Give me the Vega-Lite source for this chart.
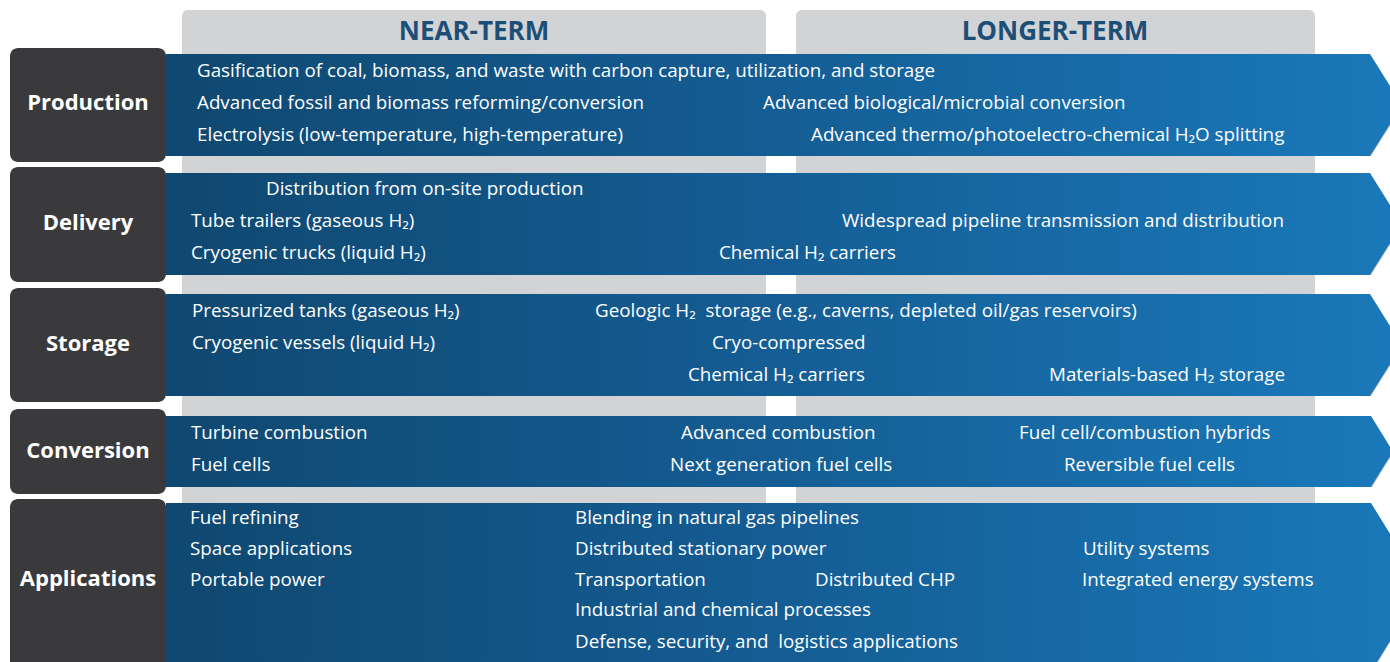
{
  "$schema": "https://vega.github.io/schema/vega-lite/v6.json",
  "width": 1390,
  "height": 662,
  "padding": 0,
  "autosize": {"type": "fit", "contains": "padding"},
  "background": "white",
  "config": {"view": {"stroke": null}},
  "datasets": {
    "cols": [
      {"x": 182, "x2": 766, "y": 10, "y2": 662},
      {"x": 796, "x2": 1315, "y": 10, "y2": 662}
    ],
    "headers": [
      {"x": 474, "y": 32, "t": "NEAR-TERM"},
      {"x": 1055, "y": 32, "t": "LONGER-TERM"}
    ],
    "boxes": [
      {"x": 10, "x2": 166, "y": 48, "y2": 162, "ly": 103, "t": "Production"},
      {"x": 10, "x2": 166, "y": 167, "y2": 282, "ly": 223, "t": "Delivery"},
      {"x": 10, "x2": 166, "y": 288, "y2": 402, "ly": 344, "t": "Storage"},
      {"x": 10, "x2": 166, "y": 409, "y2": 494, "ly": 451, "t": "Conversion"},
      {"x": 10, "x2": 166, "y": 499, "y2": 680, "ly": 579, "t": "Applications"}
    ],
    "arrows": [
      {"row": "Production", "x": 166, "y": 54, "y2": 156},
      {"row": "Production", "x": 1370, "y": 54, "y2": 156},
      {"row": "Production", "x": 1402, "y": 105, "y2": 105},
      {"row": "Delivery", "x": 166, "y": 173, "y2": 275},
      {"row": "Delivery", "x": 1370, "y": 173, "y2": 275},
      {"row": "Delivery", "x": 1402, "y": 224, "y2": 224},
      {"row": "Storage", "x": 166, "y": 294, "y2": 396},
      {"row": "Storage", "x": 1370, "y": 294, "y2": 396},
      {"row": "Storage", "x": 1402, "y": 345, "y2": 345},
      {"row": "Conversion", "x": 166, "y": 416, "y2": 487},
      {"row": "Conversion", "x": 1371, "y": 416, "y2": 487},
      {"row": "Conversion", "x": 1393, "y": 451.5, "y2": 451.5},
      {"row": "Applications", "x": 166, "y": 503, "y2": 672},
      {"row": "Applications", "x": 1371, "y": 503, "y2": 672},
      {"row": "Applications", "x": 1423, "y": 587, "y2": 587}
    ],
    "items": [
      {"x": 197, "y": 71, "t": "Gasification of coal, biomass, and waste with carbon capture, utilization, and storage"},
      {"x": 197, "y": 103, "t": "Advanced fossil and biomass reforming/conversion"},
      {"x": 763, "y": 103, "t": "Advanced biological/microbial conversion"},
      {"x": 197, "y": 135, "t": "Electrolysis (low-temperature, high-temperature)"},
      {"x": 811, "y": 135, "t": "Advanced thermo/photoelectro-chemical H₂O splitting"},
      {"x": 266, "y": 189, "t": "Distribution from on-site production"},
      {"x": 191, "y": 221, "t": "Tube trailers (gaseous H₂)"},
      {"x": 842, "y": 221, "t": "Widespread pipeline transmission and distribution"},
      {"x": 191, "y": 253, "t": "Cryogenic trucks (liquid H₂)"},
      {"x": 719, "y": 253, "t": "Chemical H₂ carriers"},
      {"x": 192, "y": 311, "t": "Pressurized tanks (gaseous H₂)"},
      {"x": 595, "y": 311, "t": "Geologic H₂\u00a0 storage (e.g., caverns, depleted oil/gas reservoirs)"},
      {"x": 192, "y": 343, "t": "Cryogenic vessels (liquid H₂)"},
      {"x": 712, "y": 343, "t": "Cryo-compressed"},
      {"x": 688, "y": 375, "t": "Chemical H₂ carriers"},
      {"x": 1049, "y": 375, "t": "Materials-based H₂ storage"},
      {"x": 191, "y": 433, "t": "Turbine combustion"},
      {"x": 681, "y": 433, "t": "Advanced combustion"},
      {"x": 1019, "y": 433, "t": "Fuel cell/combustion hybrids"},
      {"x": 191, "y": 465, "t": "Fuel cells"},
      {"x": 670, "y": 465, "t": "Next generation fuel cells"},
      {"x": 1064, "y": 465, "t": "Reversible fuel cells"},
      {"x": 190, "y": 518, "t": "Fuel refining"},
      {"x": 575, "y": 518, "t": "Blending in natural gas pipelines"},
      {"x": 190, "y": 549, "t": "Space applications"},
      {"x": 575, "y": 549, "t": "Distributed stationary power"},
      {"x": 1083, "y": 549, "t": "Utility systems"},
      {"x": 190, "y": 580, "t": "Portable power"},
      {"x": 575, "y": 580, "t": "Transportation"},
      {"x": 815, "y": 580, "t": "Distributed CHP"},
      {"x": 1082, "y": 580, "t": "Integrated energy systems"},
      {"x": 575, "y": 610, "t": "Industrial and chemical processes"},
      {"x": 575, "y": 642, "t": "Defense, security, and\u00a0 logistics applications"}
    ]
  },
  "layer": [
    {
      "data": {"name": "cols"},
      "mark": {"type": "rect", "color": "#d2d3d5", "cornerRadiusTopLeft": 6, "cornerRadiusTopRight": 6, "clip": true},
      "encoding": {
        "x": {"field": "x", "type": "quantitative", "scale": {"domain": [0, 1390], "nice": false, "zero": false}, "axis": null},
        "x2": {"field": "x2"},
        "y": {"field": "y", "type": "quantitative", "scale": {"domain": [0, 662], "nice": false, "zero": false, "reverse": true}, "axis": null},
        "y2": {"field": "y2"}
      }
    },
    {
      "data": {"name": "headers"},
      "mark": {"type": "text", "font": "Open Sans", "fontWeight": "bold", "fontSize": 26, "color": "#1b4f78", "align": "center", "baseline": "middle"},
      "encoding": {
        "x": {"field": "x", "type": "quantitative"},
        "y": {"field": "y", "type": "quantitative"},
        "text": {"field": "t"}
      }
    },
    {
      "data": {"name": "arrows"},
      "mark": {"type": "area", "clip": true, "interpolate": "linear", "orient": "vertical", "fill": "#3c3c3c", "opacity": 0.3, "yOffset": 3, "xOffset": 1},
      "encoding": {
        "x": {"field": "x", "type": "quantitative"},
        "y": {"field": "y", "type": "quantitative", "stack": null},
        "y2": {"field": "y2"},
        "detail": {"field": "row"}
      }
    },
    {
      "data": {"name": "arrows"},
      "mark": {
        "type": "area",
        "clip": true,
        "interpolate": "linear",
        "orient": "vertical",
        "fill": {
          "gradient": "linear", "x1": 0, "y1": 0, "x2": 1, "y2": 0,
          "stops": [
            {"offset": 0, "color": "#0f4870"},
            {"offset": 0.45, "color": "#145b91"},
            {"offset": 1, "color": "#1a79ba"}
          ]
        }
      },
      "encoding": {
        "x": {"field": "x", "type": "quantitative"},
        "y": {"field": "y", "type": "quantitative", "stack": null},
        "y2": {"field": "y2"},
        "detail": {"field": "row"}
      }
    },
    {
      "data": {"name": "boxes"},
      "mark": {"type": "rect", "color": "#3a3a3c", "cornerRadius": 8, "clip": true},
      "encoding": {
        "x": {"field": "x", "type": "quantitative"},
        "x2": {"field": "x2"},
        "y": {"field": "y", "type": "quantitative"},
        "y2": {"field": "y2"}
      }
    },
    {
      "data": {"name": "boxes"},
      "mark": {"type": "text", "font": "Open Sans", "fontWeight": "bold", "fontSize": 22, "color": "white", "align": "center", "baseline": "middle"},
      "encoding": {
        "x": {"datum": 88, "type": "quantitative"},
        "y": {"field": "ly", "type": "quantitative"},
        "text": {"field": "t"}
      }
    },
    {
      "data": {"name": "items"},
      "mark": {"type": "text", "font": "Open Sans", "fontSize": 18.8, "color": "white", "align": "left", "baseline": "middle"},
      "encoding": {
        "x": {"field": "x", "type": "quantitative"},
        "y": {"field": "y", "type": "quantitative"},
        "text": {"field": "t"}
      }
    }
  ]
}
